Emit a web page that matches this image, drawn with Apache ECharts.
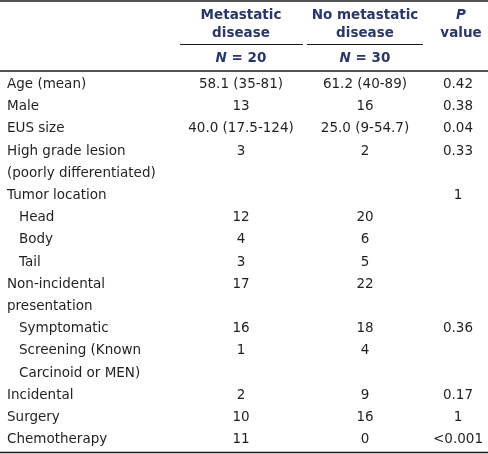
<!DOCTYPE html>
<html>
<head>
<meta charset="utf-8">
<script src="https://cdn.jsdelivr.net/npm/echarts@6/dist/echarts.min.js"></script>
<style>
html,body{margin:0;padding:0;background:#fff;}
#chart{width:488px;height:454px;}
</style>
</head>
<body>
<div id="chart"></div>
<script>
// ---- DATA ----
const columnHeaders = ['Metastatic\ndisease', 'No metastatic\ndisease', 'P\nvalue'];
const groupCounts = ['N = 20', 'N = 30'];
const rowLabels = [
  'Age (mean)', 'Male', 'EUS size', 'High grade lesion\n(poorly differentiated)',
  'Tumor location', 'Head', 'Body', 'Tail', 'Non-incidental\npresentation',
  'Symptomatic', 'Screening (Known\nCarcinoid or MEN)', 'Incidental', 'Surgery', 'Chemotherapy'
];
const rowIndent = [0, 0, 0, 0, 0, 1, 1, 1, 0, 1, 1, 0, 0, 0];
const metastatic = ['58.1 (35-81)', '13', '40.0 (17.5-124)', '3', '', '12', '4', '3', '17', '16', '1', '2', '10', '11'];
const noMetastatic = ['61.2 (40-89)', '16', '25.0 (9-54.7)', '2', '', '20', '6', '5', '22', '18', '4', '9', '16', '0'];
const pValues = ['0.42', '0.38', '0.04', '0.33', '1', '', '', '', '', '0.36', '', '0.17', '1', '<0.001'];

// ---- LAYOUT (pixel anchors on a 0..488 x-scale; y in text-line units) ----
const W = 488, H = 454;
const PITCH = 22.2;           // px per text line
const FIRST_ROW_Y = 84.5;     // px centre of first body line
const yMin = -FIRST_ROW_Y / PITCH;
const yMax = yMin + H / PITCH;
const toLine = px => (px - FIRST_ROW_Y) / PITCH;
const labelX = 7, indentX = 19;
const colX = [241, 365, 458];
const headerLineY = [toLine(15), toLine(33)];
const countY = toLine(58.5);
const rules = [
  {x: [0, W], y: toLine(1), w: 1.6},
  {x: [180, 303], y: toLine(44.5), w: 1.2},
  {x: [307, 423], y: toLine(44.5), w: 1.2},
  {x: [0, W], y: toLine(71), w: 1.6},
  {x: [0, W], y: toLine(452.5), w: 1.6}
];

const BODY = '#231f20', HEAD = '#2b3766';
const FONT = '"DejaVu Sans", Verdana, sans-serif';
const FS = 13.5;

// ---- build cell points ----
const cells = [];
function addCell(x, line, text, align, style) {
  cells.push({
    value: [x, line, text],
    label: Object.assign({align: align}, style || {})
  });
}
// header
columnHeaders.forEach((h, c) => {
  h.split('\n').forEach((t, k) => {
    const isP = c === 2 && k === 0;
    addCell(colX[c] + (c === 2 ? 3 : 0), headerLineY[k], t, 'center',
      {color: HEAD, fontWeight: 'bold', fontStyle: isP ? 'italic' : 'normal'});
  });
});
groupCounts.forEach((t, c) => {
  const parts = t.split(' ');
  addCell(colX[c], countY, '{i|' + parts[0] + '} ' + parts.slice(1).join(' '), 'center',
    {color: HEAD, fontWeight: 'bold'});
});
// body
let line = 0;
rowLabels.forEach((lab, r) => {
  const lines = lab.split('\n');
  lines.forEach((t, k) => addCell(rowIndent[r] ? indentX : labelX, line + k, t, 'left'));
  [metastatic[r], noMetastatic[r], pValues[r]].forEach((v, c) => {
    if (v !== '') addCell(colX[c], line, v, 'center');
  });
  line += lines.length;
});

const chart = echarts.init(document.getElementById('chart'), null, {renderer: 'canvas'});
chart.setOption({
  backgroundColor: '#fff',
  animation: false,
  grid: {left: 0, right: 0, top: 0, bottom: 0},
  xAxis: {type: 'value', min: 0, max: W, show: false},
  yAxis: {type: 'value', min: yMin, max: yMax, inverse: true, show: false},
  series: [
    {
      type: 'scatter',
      silent: true,
      symbolSize: 0,
      itemStyle: {opacity: 1},
      data: cells,
      label: {
        show: true,
        position: 'inside',
        verticalAlign: 'middle',
        color: BODY,
        opacity: 1,
        fontFamily: FONT,
        fontSize: FS,
        formatter: p => p.value[2],
        rich: {
          i: {fontStyle: 'italic', fontWeight: 'bold', color: HEAD, fontFamily: FONT, fontSize: FS}
        }
      }
    }
  ].concat(rules.map(r => ({
    type: 'line',
    silent: true,
    symbol: 'none',
    data: [[r.x[0], r.y], [r.x[1], r.y]],
    lineStyle: {color: '#1a1a1a', width: r.w}
  })))
});
</script>
</body>
</html>
